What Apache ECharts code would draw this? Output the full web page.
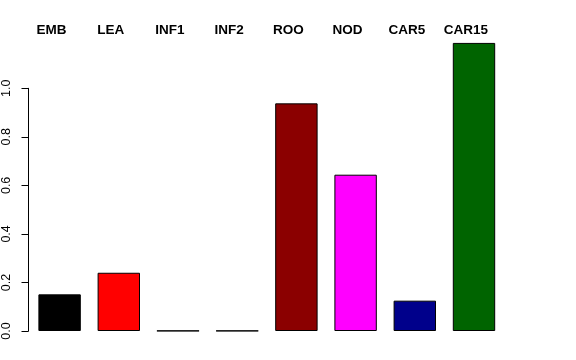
<!DOCTYPE html>
<html>
<head>
<meta charset="utf-8">
<script src="https://cdn.jsdelivr.net/npm/echarts@6/dist/echarts.min.js"></script>
<style>html,body{margin:0;padding:0;background:#fff}#c{width:576px;height:360px}</style>
</head>
<body>
<div id="c"></div>
<script>
var categories = ["EMB", "LEA", "INF1", "INF2", "ROO", "NOD", "CAR5", "CAR15"];
var values = [0.151, 0.240, 0.001, 0.001, 0.938, 0.644, 0.125, 1.187];
var barColors = ["#000000", "#FF0000", "#006400", "#00008B", "#8B0000", "#FF00FF", "#00008B", "#006400"];
var yTicks = [0, 0.2, 0.4, 0.6, 0.8, 1.0];

var chart = echarts.init(document.getElementById('c'), null, {renderer: 'canvas'});
chart.setOption({
  animation: false,
  backgroundColor: '#ffffff',
  grid: {left: 30, right: 72.4, top: 88.3, bottom: 29},
  xAxis: {
    type: 'category',
    data: categories,
    position: 'top',
    axisLine: {show: false},
    axisTick: {show: false},
    axisLabel: {
      interval: 0,
      margin: 51,
      padding: [0, 16, 0, 0],
      fontFamily: 'Liberation Sans',
      fontWeight: 'bold',
      fontSize: 13.5,
      color: '#000'
    }
  },
  yAxis: {
    type: 'value',
    min: 0,
    max: 1.0,
    interval: 0.2,
    offset: 1.5,
    splitLine: {show: false},
    axisLine: {show: true, lineStyle: {color: '#000', width: 1}},
    axisTick: {show: true, length: 7, lineStyle: {color: '#000'}},
    axisLabel: {
      rotate: 90,
      margin: 15,
      fontFamily: 'Liberation Sans',
      fontSize: 12.5,
      color: '#000',
      formatter: function (v) { return v.toFixed(1); }
    }
  },
  series: [{
    type: 'bar',
    clip: false,
    barWidth: 42.4,
    data: values.map(function (v, i) {
      return {value: v, itemStyle: {color: barColors[i]}};
    }),
    itemStyle: {borderColor: '#000', borderWidth: 1}
  }]
});
</script>
</body>
</html>
